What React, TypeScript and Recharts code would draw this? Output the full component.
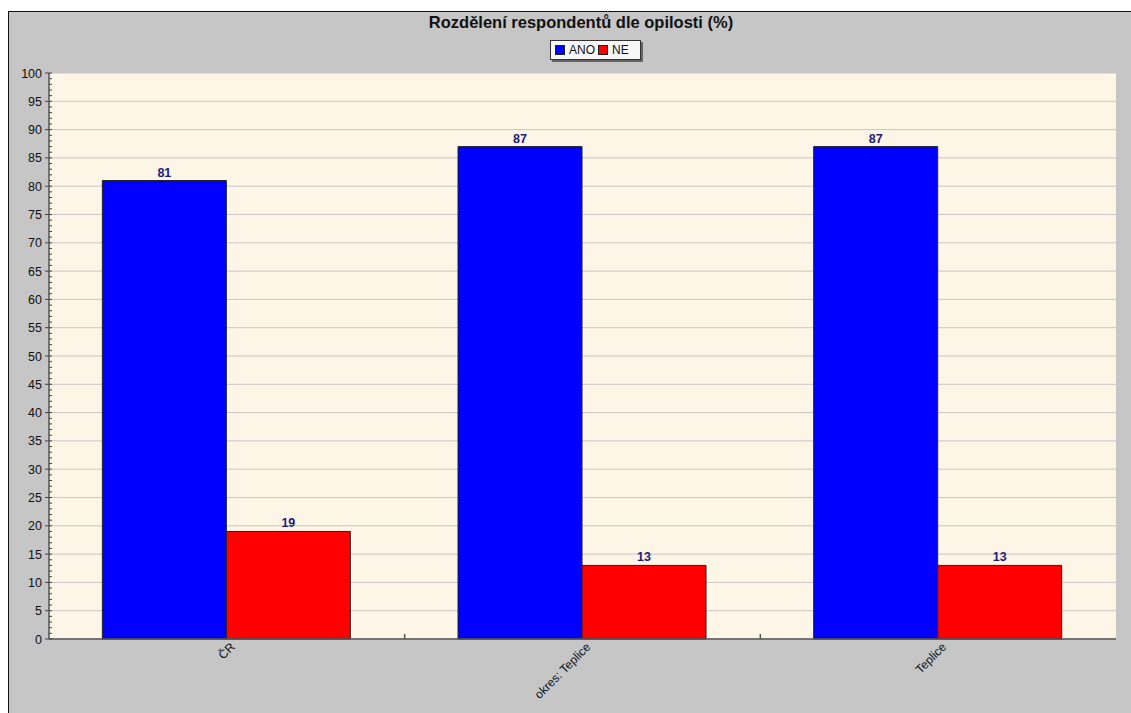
import React from "react";
import { BarChart, Bar, XAxis, YAxis, CartesianGrid, LabelList } from "recharts";

// Podíl respondentů dle opilosti, v procentech
const categories = ["ČR", "okres: Teplice", "Teplice"];
const anoValues = [81, 87, 87];
const neValues = [19, 13, 13];
const yMajorTicks = [0, 5, 10, 15, 20, 25, 30, 35, 40, 45, 50, 55, 60, 65, 70, 75, 80, 85, 90, 95, 100];
const yAllTicks = Array.from({ length: 101 }, (_, i) => i);

const TITLE = "Rozdělení respondentů dle opilosti (%)";
const FONT = "Arial, 'Liberation Sans', sans-serif";

const CHART_W = 1122;
const CHART_H = 701;
const MARGIN = { top: 61, right: 15, left: 0, bottom: 0 };
const Y_AXIS_W = 40;
const X_AXIS_H = 74;
const PLOT_W = CHART_W - MARGIN.right - Y_AXIS_W;
const BAND = PLOT_W / categories.length;

const data = categories.map((name, i) => ({
  name,
  ano: anoValues[i],
  ne: neValues[i],
}));

const series = [
  { key: "ano", label: "ANO", color: "#0000ff" },
  { key: "ne", label: "NE", color: "#ff0000" },
];

// y axis: minor tick every unit, labelled major tick every 5
function YTick(props: any) {
  const { x, y, payload } = props;
  const v = payload.value as number;
  const major = v % 5 === 0;
  const ax = x + 6;
  return (
    <g>
      <line x1={ax - (major ? 4 : 0)} x2={ax + 3} y1={y} y2={y} stroke="#444" strokeWidth={1} />
      {major && (
        <text x={x - 1} y={y} dy={4.5} textAnchor="end" fontSize={12.5} fontFamily={FONT} fill="#111">
          {v}
        </text>
      )}
    </g>
  );
}

// x axis: slanted category names plus small ticks on the category boundaries
function XTick(props: any) {
  const { x, y, payload, index } = props;
  const axisY = y - 8;
  const tx = x + 8;
  return (
    <g>
      {index < categories.length - 1 && (
        <line x1={x + BAND / 2} x2={x + BAND / 2} y1={axisY} y2={axisY - 5} stroke="#555" strokeWidth={1.5} />
      )}
      <text
        x={tx}
        y={y}
        dy={1}
        textAnchor="end"
        transform={`rotate(-45, ${tx}, ${y})`}
        fontSize={12}
        fontFamily={FONT}
        fill="#111"
      >
        {payload.value}
      </text>
    </g>
  );
}

function LegendBox() {
  return (
    <div
      style={{
        position: "absolute",
        left: 550,
        top: 40,
        width: 91,
        height: 20,
        background: "#f7f7f7",
        border: "1px solid #333",
        boxShadow: "2px 2px 0 #666",
        display: "flex",
        alignItems: "center",
        paddingLeft: 4,
        boxSizing: "border-box",
        fontFamily: FONT,
        fontSize: 12,
        color: "#111",
      }}
    >
      {series.map((s) => (
        <span key={s.key} style={{ display: "flex", alignItems: "center", marginRight: 3 }}>
          <span
            style={{
              display: "inline-block",
              width: 10,
              height: 10,
              background: s.color,
              border: "1px solid #222",
              boxSizing: "border-box",
              marginRight: 4,
            }}
          />
          {s.label}
        </span>
      ))}
    </div>
  );
}

export default function App() {
  return (
    <div style={{ position: "absolute", left: 0, top: 0, width: 1131, height: 713, background: "#ffffff", overflow: "hidden" }}>
      <div
        style={{
          position: "absolute",
          left: 8,
          top: 11,
          width: 1123,
          height: 702,
          background: "#c6c6c6",
          borderLeft: "1px solid #111",
          borderTop: "1px solid #111",
        }}
      >
        <div
          style={{
            position: "absolute",
            left: 14,
            top: 1,
            width: 1116,
            textAlign: "center",
            fontFamily: FONT,
            fontWeight: "bold",
            fontSize: 16.5,
            color: "#111",
          }}
        >
          {TITLE}
        </div>
        <div style={{ position: "absolute", left: -9, top: -12 }}>
          <LegendBox />
        </div>
        <div style={{ position: "absolute", left: 0, top: 0 }}>
          <BarChart width={CHART_W} height={CHART_H} data={data} margin={MARGIN} barGap={0} barCategoryGap="15%">
            <CartesianGrid
              vertical={false}
              horizontalValues={yMajorTicks}
              stroke="#cbc5c5"
              fill="#fdf5e6"
              fillOpacity={1}
            />
            <XAxis
              dataKey="name"
              height={X_AXIS_H}
              tickLine={false}
              axisLine={{ stroke: "#555", strokeWidth: 1.5 }}
              interval={0}
              tick={<XTick />}
            />
            <YAxis
              width={Y_AXIS_W}
              domain={[0, 100]}
              ticks={yAllTicks}
              interval={0}
              tickSize={4}
              tickMargin={2}
              tickLine={false}
              axisLine={{ stroke: "#555", strokeWidth: 1.5 }}
              tick={<YTick />}
            />
            {series.map((s) => (
              <Bar key={s.key} dataKey={s.key} fill={s.color} stroke="#222" strokeWidth={1} isAnimationActive={false}>
                <LabelList
                  dataKey={s.key}
                  position="top"
                  offset={4}
                  fill="#1c1c7a"
                  fontSize={12.5}
                  fontWeight="bold"
                  fontFamily={FONT}
                />
              </Bar>
            ))}
          </BarChart>
        </div>
      </div>
    </div>
  );
}
